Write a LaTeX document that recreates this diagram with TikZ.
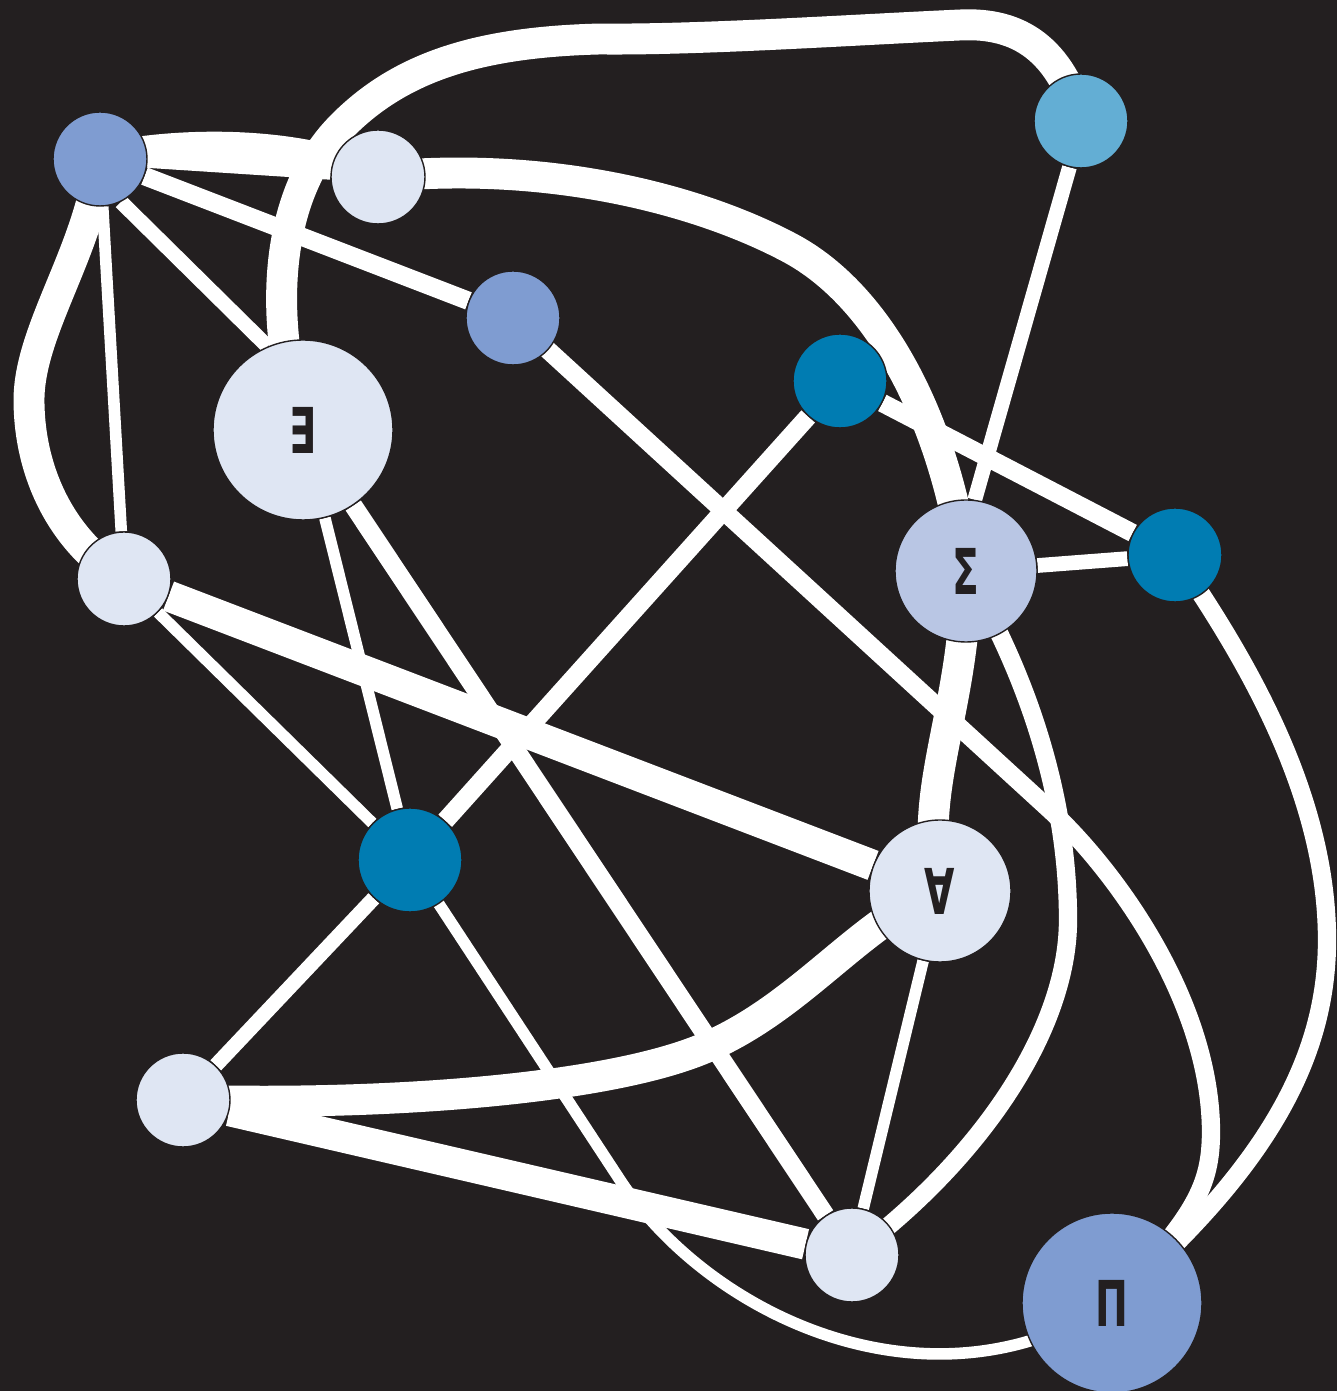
\documentclass[tikz,border=0pt]{standalone}
\usepackage{fontspec}
\newfontfamily\glyphfont{DejaVu Sans}[FakeStretch=0.62]
\usepackage{xcolor}
\definecolor{BgDark}{HTML}{231F20}
\definecolor{NodeLight}{HTML}{DFE6F3}
\definecolor{NodeMid}{HTML}{7F9CD1}
\definecolor{NodeTeal}{HTML}{007CB2}
\definecolor{NodeSky}{HTML}{63AED4}
\definecolor{NodeLav}{HTML}{B9C6E4}
\usetikzlibrary{backgrounds}

\begin{document}
\begin{tikzpicture}[
    vertex/.style={circle, draw=BgDark, line width=0.4pt, inner sep=0pt, minimum size=#1},
    vertex/.default=0.94cm,
    heavylink/.style={white, line width=8.8pt},
    midlink/.style={white, line width=5.2pt},
    slimlink/.style={white, line width=4.2pt},
    thinlink/.style={white, line width=3.3pt},
    sym/.style={text=BgDark, font=\glyphfont\bfseries\fontsize{18}{18}\selectfont}
]
    \useasboundingbox (0,0) rectangle (13.37,13.91);

    % the vertices, placed at fixed spots
    \node[vertex, fill=NodeMid] (nw) at (1.00,12.32) {};
    \node[vertex, fill=NodeLight] (top) at (3.78,12.14) {};
    \node[vertex=1.80cm, fill=NodeLight, sym] (exists) at (3.03,9.61) {∃};
    \node[vertex, fill=NodeMid] (mid) at (5.13,10.73) {};
    \node[vertex, fill=NodeSky] (ne) at (10.81,12.70) {};
    \node[vertex, fill=NodeTeal] (tealN) at (8.40,10.10) {};
    \node[vertex=1.42cm, fill=NodeLav, sym] (sum) at (9.66,8.20) {Σ};
    \node[vertex, fill=NodeTeal] (tealE) at (11.75,8.36) {};
    \node[vertex, fill=NodeLight] (west) at (1.24,8.12) {};
    \node[vertex=1.04cm, fill=NodeTeal] (tealS) at (4.10,5.31) {};
    \node[vertex=1.42cm, fill=NodeLight, sym] (forall) at (9.40,5.00) {∀};
    \node[vertex, fill=NodeLight] (sw) at (1.83,2.91) {};
    \node[vertex, fill=NodeLight] (south) at (8.52,1.36) {};
    \node[vertex=1.80cm, fill=NodeMid, sym] (prod) at (11.12,0.88) {Π};

    \begin{scope}[on background layer]
    \fill[BgDark] (0,0) rectangle (13.37,13.91);

    % heavy links
    \draw[heavylink] (exists.center) .. controls (2.70,10.61) and (2.70,11.91) .. (3.40,12.63)
        .. controls (4.00,13.25) and (4.80,13.49) .. (6.00,13.52)
        .. controls (7.00,13.51) and (8.50,13.61) .. (9.60,13.66)
        .. controls (10.20,13.69) and (10.60,13.41) .. (ne.center);
    \draw[heavylink] (top.center) .. controls (5.50,12.31) and (7.00,11.91) .. (7.90,11.43)
        .. controls (8.80,10.95) and (9.45,9.71) .. (sum.center);
    \draw[heavylink] (nw.center) .. controls (0.90,11.41) and (0.29,10.61) .. (0.29,9.91)
        .. controls (0.29,9.21) and (0.60,8.51) .. (west.center);
    \draw[heavylink] (nw.center) .. controls (1.80,12.50) and (3.00,12.50) .. (top.center);
    \draw[heavylink] (forall.center) .. controls (8.60,4.71) and (8.00,3.81) .. (7.00,3.41)
        .. controls (6.00,3.01) and (3.80,2.85) .. (sw.center);
    \draw[heavylink] (sum.center) .. controls (9.66,6.8) and (9.15,6.0) .. (forall.center);
    \draw[heavylink] (west) -- (forall);
    \draw[heavylink] (sw) -- (south);

    % medium links
    \draw[midlink] (nw) -- (mid);
    \draw[midlink] (tealN) -- (tealS);
    \draw[midlink] (tealN) -- (tealE);
    \draw[slimlink] (ne.-104) -- (sum.83);
    \draw[midlink] (exists) -- (south);
    \draw[midlink] (mid.center) -- (10.50,5.81) .. controls (11.16,5.20) and (12.10,3.90) .. (12.11,2.60)
        .. controls (12.11,2.05) and (11.95,1.75) .. (prod.center);
    \draw[midlink] (sum.center) .. controls (10.30,7.11) and (10.68,5.91) .. (10.68,4.71)
        .. controls (10.68,3.61) and (9.80,2.31) .. (south.center);
    \draw[midlink] (tealE.center) .. controls (12.40,7.41) and (13.27,6.01) .. (13.27,4.51)
        .. controls (13.27,3.31) and (12.65,2.21) .. (prod.center);

    % thin links
    \draw[thinlink] (nw) -- (top);
    \draw[thinlink] (nw) -- (west);
    \draw[slimlink] (nw.-64) -- (exists.113);
    \draw[thinlink] (exists) -- (tealS);
    \draw[thinlink] (west) -- (tealS);
    \draw[slimlink] (tealS) -- (sw);
    \draw[slimlink] (sum) -- (tealE);
    \draw[thinlink] (forall) -- (south);
    \draw[thinlink] (tealS.center) -- (6.20,2.11) .. controls (7.10,0.74) and (9.30,-0.29) .. (prod.center);
    \end{scope}

\end{tikzpicture}
\end{document}
